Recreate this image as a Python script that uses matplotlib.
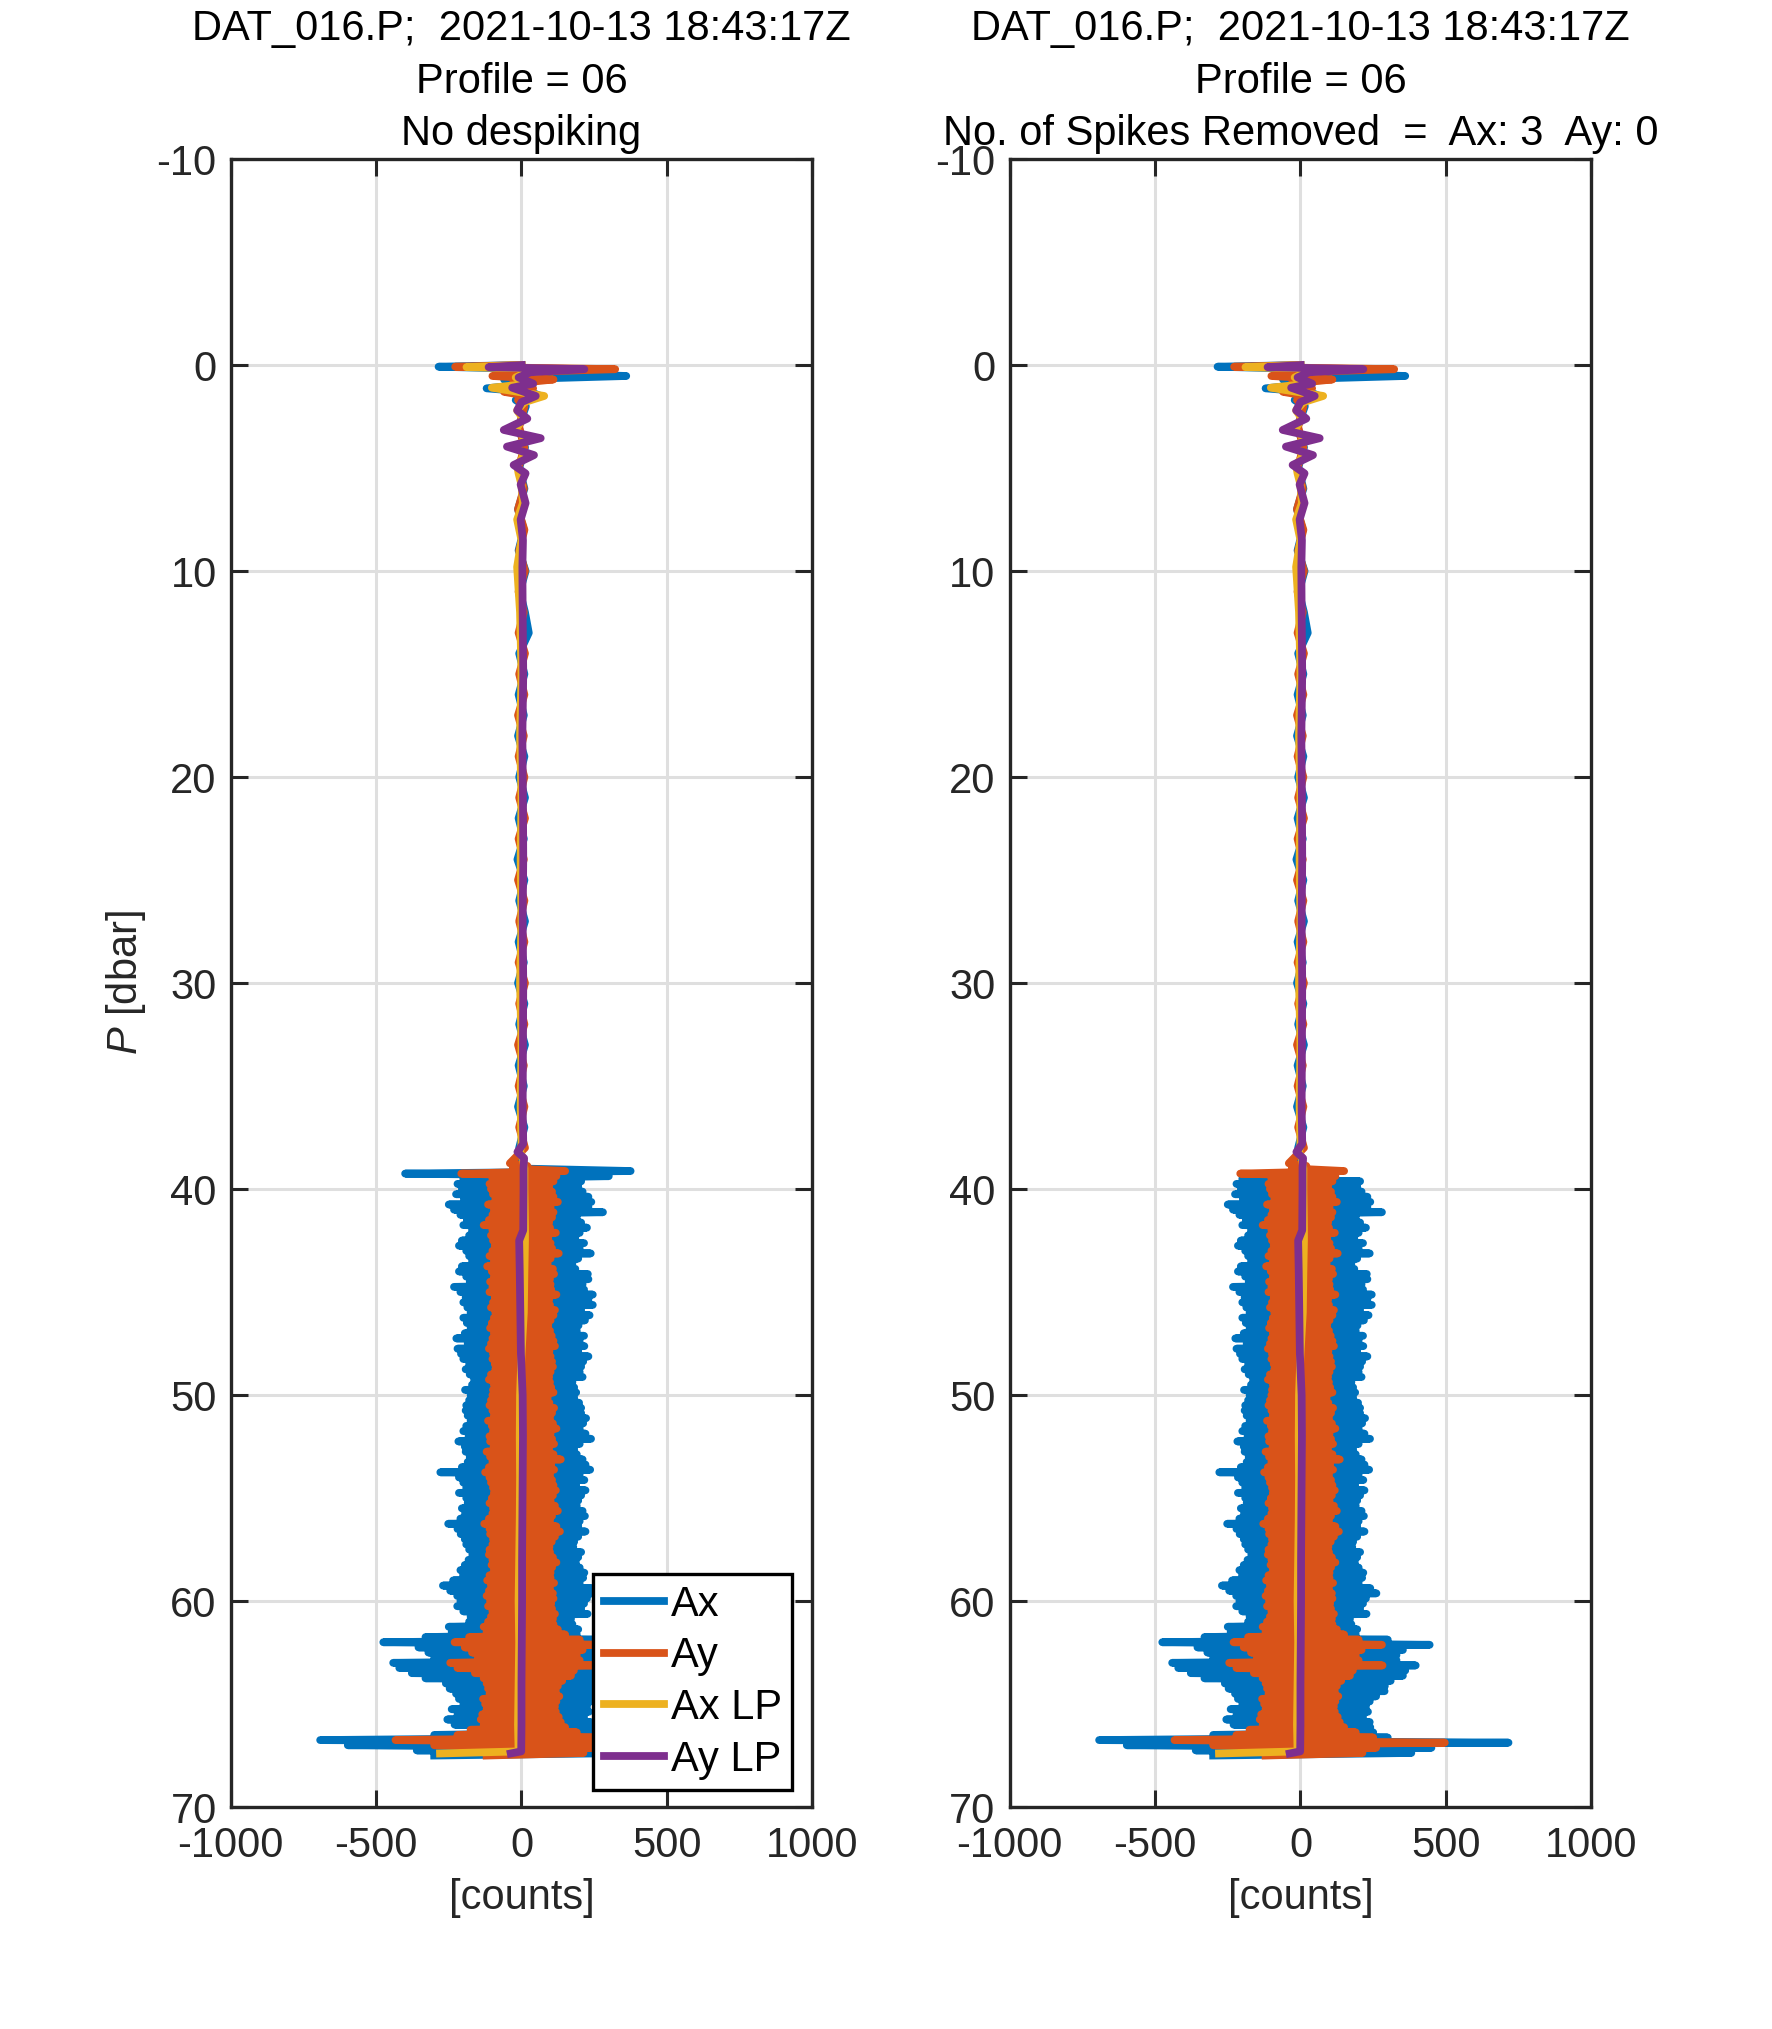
import numpy as np
import matplotlib.pyplot as plt
from matplotlib.lines import Line2D

plt.rcParams['font.family'] = ['Liberation Sans', 'DejaVu Sans']
plt.rcParams['mathtext.fontset'] = 'custom'
plt.rcParams['mathtext.it'] = 'Liberation Sans:italic'
plt.rcParams['mathtext.rm'] = 'Liberation Sans'
plt.rcParams['axes.unicode_minus'] = False

file_name = 'DAT_016.P'
time_stamp = '2021-10-13 18:43:17Z'
profile_no = '06'
n_spikes_ax = 3
n_spikes_ay = 0

# upper part of the profile, P in dbar, signals in counts
p_top = np.r_[0.0, 0.08, 0.2, 0.35, 0.53, 0.7, 0.9, 1.13, 1.3, 1.5, 1.7, 2.0, np.arange(3, 39)]
ax_top = [0, -285, 60, -40, 360, -60, 40, -120, 30, 65, -20, 15,
          -10, 12, -8, 10, -12, 8, -10, 14, -6, 12,
          25, -8, 10, -10, 8, -12, 10, -8, 12, -10,
          8, -14, 10, -8, 12, -10, 8, -12, 10, -8,
          12, -10, 8, -12, 10, -8]
ay_top = [0, -228, 322, -30, -100, 110, -30, 40, -60, 20, -12, 10,
          -8, 10, -10, 8, -12, 10, -8, 12, -10, 8,
          -10, 12, -8, 10, -12, 8, -10, 10, -8, 12,
          -10, 8, -12, 10, -8, 10, -10, 12, -8, 10,
          -12, 8, -10, 10, -8, 12]

# noisy part, one sample every 0.125 dbar from 38.75 to 67.5 dbar (16 per row = 2 dbar)
p_band = 38.75 + 0.125 * np.arange(231)
ax_band = [-5, 10, -15, 30, -50, 90, -200, 205, -220, 195, -205, 210, -225, 230, -198, 240,
           -250, 230, -232, 280, -210, 190, -188, 205, -200, 225, -170, 200, -180, 185, -205, 215,
           -215, 200, -190, 238, -180, 195, -170, 175, -205, 185, -215, 228, -190, 230, -178, 210,
           -232, 215, -210, 245, -192, 230, -200, 245, -186, 205, -175, 234, -200, 218, -188, 196,
           -175, 190, -195, 215, -224, 200, -185, 216, -220, 195, -208, 230, -200, 212, -180, 205,
           -192, 200, -178, 210, -163, 175, -170, 181, -194, 188, -175, 181, -180, 198, -190, 205,
           -192, 205, -185, 222, -175, 212, -190, 200, -200, 220, -182, 239, -217, 200, -195, 181,
           -192, 190, -178, 210, -185, 220, -205, 236, -279, 200, -215, 216, -200, 188, -190, 220,
           -215, 205, -190, 195, -185, 190, -205, 210, -194, 218, -210, 200, -252, 195, -220, 220,
           -209, 195, -195, 181, -190, 178, -180, 205, -169, 195, -182, 187, -195, 200, -210, 216,
           -201, 212, -235, 200, -270, 240, -245, 261, -221, 225, -210, 215, -221, 205, -200, 227,
           -175, 170, -180, 175, -250, 195, -240, 190, -330, 300, -475, 444, -354, 352, -320, 330,
           -300, 330, -441, 396, -420, 360, -377, 352, -330, 310, -260, 290, -247, 289, -225, 260,
           -215, 238, -200, 225, -240, 232, -220, 215, -255, 238, -230, 240, -170, 250, -300, 300,
           -692, 715, -597, 450, -360, 381, -300]
ay_band = [-40, 20, -30, 150, -207, 120, -100, 110, -110, 95, -105, 105, -98, 110, -90, 125,
           -115, 100, -95, 110, -100, 105, -112, 95, -130, 98, -100, 118, -105, 92, -98, 100,
           -92, 105, -100, 128, -110, 100, -95, 90, -118, 108, -102, 112, -95, 98, -108, 100,
           -100, 102, -110, 120, -92, 95, -98, 98, -105, 115, -90, 110, -95, 100, -102, 92,
           -108, 98, -95, 104, -100, 110, -105, 115, -112, 96, -98, 100, -100, 105, -92, 108,
           -90, 100, -105, 95, -112, 98, -95, 102, -98, 110, -100, 90, -105, 96, -110, 112,
           -100, 105, -95, 98, -115, 108, -102, 120, -98, 100, -110, 105, -108, 112, -96, 95,
           -120, 110, -108, 135, -100, 102, -112, 112, -125, 98, -110, 105, -105, 110, -98, 118,
           -95, 108, -102, 100, -110, 115, -98, 125, -100, 105, -112, 98, -128, 120, -110, 132,
           -108, 115, -98, 104, -100, 96, -110, 98, -112, 108, -100, 120, -103, 105, -95, 100,
           -110, 100, -118, 112, -105, 98, -112, 108, -120, 110, -108, 102, -115, 105, -100, 115,
           -105, 108, -115, 110, -130, 125, -120, 150, -180, 200, -230, 280, -195, 210, -170, 190,
           -150, 200, -245, 282, -220, 180, -160, 170, -130, 140, -120, 125, -115, 118, -110, 130,
           -132, 120, -125, 115, -120, 118, -135, 128, -140, 135, -130, 150, -175, 190, -220, 250,
           -433, 496, -300, 260, -200, 213, -120]

# the spikes that despiking took out of Ax
spike_p = [39.125, 39.25, 39.375]
spike_ax = [375, -400, 300]

# low-passed signals
p_lp = [0.0, 0.1, 0.2, 0.35, 0.6, 0.9, 1.1, 1.5, 1.8, 2.2,
        2.6, 3.15, 3.55, 3.96, 4.37, 4.85, 5.26, 5.8, 6.7, 7.5,
        8.5, 9.8, 12, 15, 18, 21, 24, 27, 30, 33,
        36, 37.8, 38.2, 38.5, 39.0, 40, 42, 42.5, 44, 46,
        48, 50, 52, 54, 56, 58, 60, 62, 64, 66,
        67.3, 67.4]
ax_lp = [0, -189, 153, 20, -20, 30, -102, 78, 10, -15,
         5, -20, 15, -20, 10, -15, -10, 0, 5, -15,
         0, -15, -5, 0, -5, 0, -3, 0, -5, 0,
         -3, 0, -5, 5, 10, 10, 12, 12, 10, 8,
         0, -5, -6, -5, -6, -8, -10, -8, -10, -12,
         -10, -280]
ay_lp = [0, -113, 216, 30, -10, 40, -32, 49, 0, -15,
         20, -61, 66, -50, 43, -27, 14, -3, 14, -3,
         5, 3, 4, 6, 3, 5, 6, 4, 6, 5,
         4, 6, -14, 9, 7, 7, 6, -8, -6, -4,
         -2, 4, 5, 4, 3, 2, 2, 1, 0, 0,
         -1, -37]

c_ax = '#0072BD'
c_ay = '#D95319'
c_axlp = '#EDB120'
c_aylp = '#7E2F8E'
lw = 2.8
dark = '#262626'

p_all = np.concatenate([p_top, p_band])
ax_clean = np.concatenate([ax_top, ax_band]).astype(float)
ay_all = np.concatenate([ay_top, ay_band]).astype(float)
ax_raw = ax_clean.copy()
for p, v in zip(spike_p, spike_ax):
    ax_raw[np.argmin(np.abs(p_all - p))] = v


def draw_panel(ax, ax_vals, title):
    ax.plot(ax_vals, p_all, color=c_ax, lw=lw)
    ax.plot(ay_all, p_all, color=c_ay, lw=lw)
    ax.plot(ax_lp, p_lp, color=c_axlp, lw=lw)
    ax.plot(ay_lp, p_lp, color=c_aylp, lw=lw)
    ax.set_xlim(-1000, 1000)
    ax.set_ylim(70, -10)
    ax.set_xticks([-1000, -500, 0, 500, 1000])
    ax.set_yticks(range(-10, 71, 10))
    ax.grid(True, color='#dfdfdf', lw=1.1)
    ax.set_axisbelow(True)
    ax.tick_params(direction='in', top=True, right=True, length=6.2, width=1.1,
                   colors=dark, labelsize=15)
    ax.tick_params(axis='x', pad=7)
    ax.tick_params(axis='y', pad=5)
    for s in ax.spines.values():
        s.set_linewidth(1.2)
        s.set_color(dark)
    ax.set_xlabel('[counts]', fontsize=15, color=dark, labelpad=4)
    ax.set_title(title, fontsize=15, linespacing=1.4, pad=5)


fig = plt.figure(figsize=(8.86, 10.145), dpi=200)
ax1 = fig.add_axes([0.1301, 0.1094, 0.3284, 0.8122])
ax2 = fig.add_axes([0.5697, 0.1094, 0.3284, 0.8122])

draw_panel(ax1, ax_raw, f'{file_name};  {time_stamp}\nProfile = {profile_no}\nNo despiking')
draw_panel(ax2, ax_clean, f'{file_name};  {time_stamp}\nProfile = {profile_no}\n'
           f'No. of Spikes Removed  =  Ax: {n_spikes_ax}  Ay: {n_spikes_ay}')
ax1.set_ylabel('$P$ [dbar]', fontsize=15, color=dark, labelpad=3)

handles = [Line2D([], [], color=c, lw=lw) for c in (c_ax, c_ay, c_axlp, c_aylp)]
leg = ax1.legend(handles, ['Ax', 'Ay', 'Ax LP', 'Ay LP'], loc='lower right',
                 bbox_to_anchor=(0.965, 0.0103), borderaxespad=0, fontsize=15,
                 fancybox=False, framealpha=1, edgecolor='black', handlelength=1.45,
                 handletextpad=0.15, labelspacing=0.28, borderpad=0.25)
leg.get_frame().set_linewidth(1.2)

fig.savefig('out.png', dpi=200, facecolor='white')
